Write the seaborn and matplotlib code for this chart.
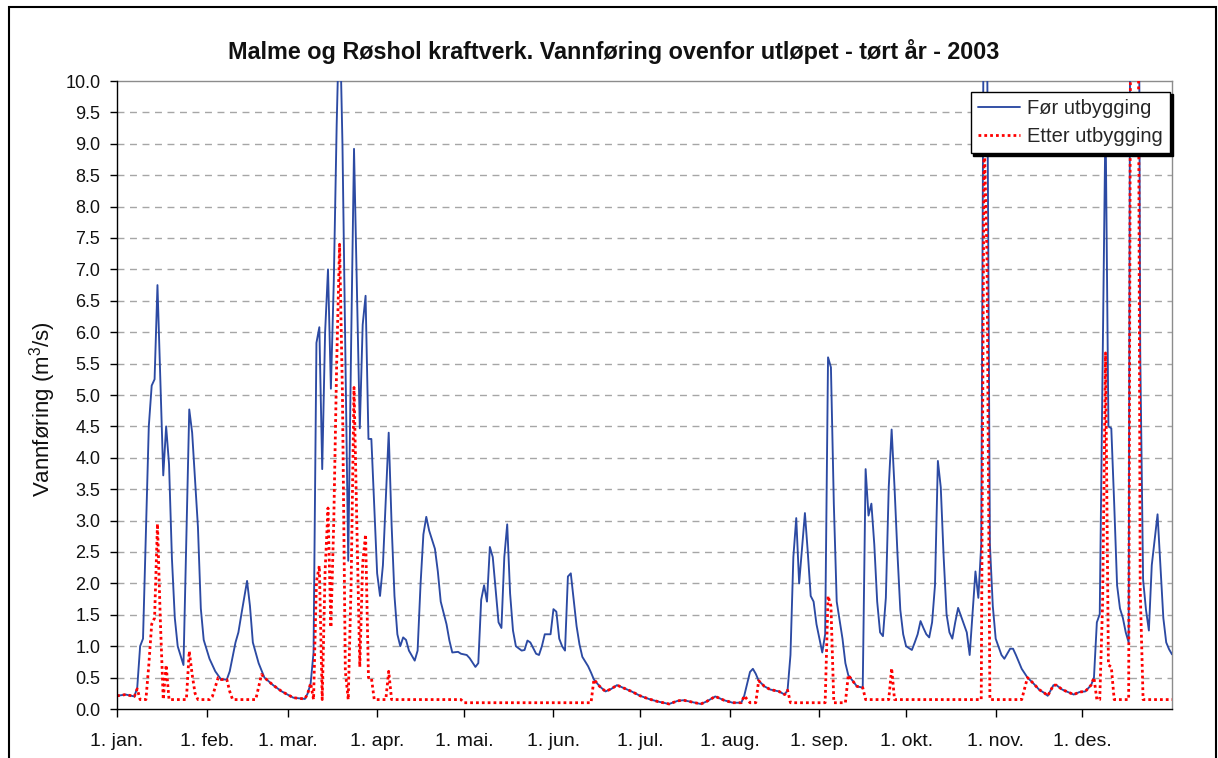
import numpy as np
import pandas as pd
import matplotlib
matplotlib.use("Agg")
import matplotlib.pyplot as plt
import seaborn as sns
from matplotlib.patches import Rectangle

# Discharge above the outlet, m3/s, by day of year (0 = 1 January 2003)
for_days = [0, 3, 6, 7, 8, 9, 11, 12, 13, 14, 16, 17, 18, 19, 20, 21, 22, 23, 25, 26,
            28, 29, 30, 32, 34, 36, 38, 39, 41, 42, 43, 45, 46, 47, 49, 51, 54, 57, 61, 65,
            66, 67, 68, 69, 70, 71, 72, 73, 74, 75, 76, 77, 78, 79, 80, 81, 82, 83, 84, 85,
            86, 87, 88, 90, 91, 92, 94, 95, 96, 97, 98, 99, 100, 101, 103, 104, 105, 106, 107, 108,
            110, 111, 112, 114, 115, 116, 118, 119, 121, 122, 124, 125, 126, 127, 128, 129, 130, 131, 132, 133,
            134, 135, 136, 137, 138, 140, 141, 142, 143, 145, 146, 147, 148, 150, 151, 152, 153, 154, 155, 156,
            157, 158, 159, 160, 161, 163, 164, 165, 167, 169, 171, 173, 175, 178, 181, 184, 187, 191, 194, 196,
            198, 202, 204, 207, 210, 213, 216, 217, 219, 220, 221, 222, 224, 226, 229, 231, 232, 233, 234, 235,
            236, 237, 238, 239, 240, 241, 242, 244, 245, 246, 247, 248, 249, 251, 252, 253, 255, 256, 258, 259,
            260, 261, 262, 263, 264, 265, 266, 267, 268, 269, 270, 271, 272, 273, 275, 276, 277, 278, 279, 280,
            281, 282, 283, 284, 285, 286, 287, 288, 289, 290, 291, 292, 294, 295, 297, 298, 299, 300, 301, 302,
            303, 304, 306, 307, 309, 310, 311, 313, 315, 317, 319, 321, 322, 324, 325, 327, 329, 331, 333, 335,
            337, 338, 339, 340, 341, 342, 343, 344, 345, 346, 347, 348, 349, 350, 351, 352, 353, 354, 355, 356,
            357, 358, 360, 361, 362, 363, 364, 365]
for_flow = [0.21, 0.23, 0.20, 0.34, 1.00, 1.12, 4.50, 5.15, 5.25, 6.75, 3.72, 4.50, 3.90, 2.40, 1.45, 1.00, 0.85, 0.70, 4.77, 4.40,
            2.90, 1.60, 1.10, 0.80, 0.60, 0.47, 0.47, 0.60, 1.06, 1.22, 1.50, 2.04, 1.64, 1.06, 0.73, 0.50, 0.38, 0.28, 0.18, 0.16,
            0.25, 0.41, 0.90, 5.83, 6.08, 3.82, 6.00, 7.00, 5.10, 6.80, 9.30, 11.20, 9.00, 5.70, 2.36, 5.80, 8.92, 6.70, 4.47, 6.12,
            6.58, 4.30, 4.30, 2.16, 1.80, 2.29, 4.40, 2.94, 1.80, 1.19, 1.00, 1.14, 1.10, 0.93, 0.77, 0.93, 1.97, 2.78, 3.06, 2.84,
            2.55, 2.19, 1.71, 1.35, 1.09, 0.90, 0.91, 0.88, 0.86, 0.81, 0.67, 0.73, 1.74, 1.97, 1.71, 2.58, 2.42, 1.90, 1.38, 1.29,
            2.42, 2.94, 1.84, 1.25, 1.00, 0.93, 0.94, 1.09, 1.06, 0.88, 0.86, 1.00, 1.19, 1.19, 1.59, 1.55, 1.12, 1.00, 0.93, 2.11,
            2.16, 1.74, 1.32, 1.03, 0.83, 0.68, 0.58, 0.47, 0.36, 0.28, 0.32, 0.38, 0.34, 0.28, 0.21, 0.16, 0.12, 0.08, 0.13, 0.14,
            0.12, 0.08, 0.12, 0.20, 0.14, 0.10, 0.10, 0.21, 0.59, 0.64, 0.56, 0.45, 0.36, 0.31, 0.28, 0.23, 0.30, 0.86, 2.42, 3.04,
            2.00, 2.55, 3.12, 2.49, 1.80, 1.71, 1.35, 0.90, 1.19, 5.60, 5.44, 3.27, 1.71, 1.12, 0.73, 0.54, 0.42, 0.36, 0.34, 3.82,
            3.08, 3.27, 2.62, 1.71, 1.22, 1.16, 1.77, 3.53, 4.45, 3.53, 2.49, 1.58, 1.19, 1.00, 0.94, 1.06, 1.19, 1.40, 1.29, 1.19,
            1.14, 1.38, 1.97, 3.95, 3.53, 2.42, 1.51, 1.22, 1.12, 1.38, 1.61, 1.48, 1.22, 0.86, 2.19, 1.77, 2.62, 13.0, 11.0, 2.62,
            1.64, 1.12, 0.86, 0.80, 0.96, 0.96, 0.86, 0.64, 0.50, 0.41, 0.31, 0.25, 0.21, 0.38, 0.38, 0.31, 0.27, 0.23, 0.27, 0.28,
            0.38, 0.50, 1.38, 1.51, 5.50, 9.47, 4.50, 4.47, 3.27, 1.97, 1.60, 1.45, 1.22, 1.06, 20.4, 22.0, 20.0, 5.70, 2.06, 1.58,
            1.25, 2.29, 3.10, 2.29, 1.45, 1.06, 0.95, 0.87]

etter_days = [0, 3, 6, 7, 8, 10, 11, 12, 13, 14, 15, 16, 17, 18, 24, 25, 26, 27, 28, 32,
              33, 35, 36, 38, 39, 40, 48, 50, 51, 54, 57, 61, 65, 66, 67, 68, 69, 70, 71, 72,
              73, 74, 75, 76, 77, 78, 79, 80, 81, 82, 83, 84, 85, 86, 87, 88, 89, 93, 94, 95,
              119, 120, 164, 165, 167, 169, 171, 173, 175, 178, 181, 184, 187, 191, 194, 196, 198, 202, 204, 207,
              210, 213, 216, 217, 219, 221, 222, 224, 226, 229, 231, 232, 233, 245, 246, 247, 248, 252, 253, 255,
              256, 258, 259, 267, 268, 269, 299, 300, 301, 302, 313, 315, 317, 319, 321, 322, 324, 325, 327, 329,
              331, 333, 335, 337, 338, 339, 340, 341, 342, 343, 344, 345, 350, 351, 352, 353, 354, 355, 365]
etter_flow = [0.21, 0.23, 0.20, 0.32, 0.15, 0.15, 0.70, 1.35, 1.45, 2.95, 1.40, 0.15, 0.70, 0.15, 0.15, 0.92, 0.55, 0.25, 0.15, 0.15,
              0.20, 0.50, 0.47, 0.47, 0.28, 0.15, 0.15, 0.55, 0.50, 0.38, 0.28, 0.18, 0.16, 0.25, 0.41, 0.15, 2.03, 2.28, 0.15, 2.20,
              3.20, 1.30, 3.00, 5.50, 7.40, 5.00, 0.60, 0.15, 2.00, 5.12, 2.90, 0.67, 2.32, 2.78, 0.50, 0.50, 0.15, 0.15, 0.60, 0.15,
              0.15, 0.10, 0.10, 0.47, 0.36, 0.28, 0.32, 0.38, 0.34, 0.28, 0.21, 0.16, 0.12, 0.08, 0.13, 0.14, 0.12, 0.08, 0.12, 0.20,
              0.14, 0.10, 0.10, 0.21, 0.10, 0.10, 0.45, 0.36, 0.31, 0.28, 0.23, 0.30, 0.10, 0.10, 1.80, 1.64, 0.10, 0.10, 0.54, 0.42,
              0.36, 0.34, 0.15, 0.15, 0.65, 0.15, 0.15, 9.20, 7.20, 0.15, 0.15, 0.50, 0.41, 0.31, 0.25, 0.21, 0.38, 0.38, 0.31, 0.27,
              0.23, 0.27, 0.28, 0.38, 0.50, 0.15, 0.15, 1.70, 5.67, 0.70, 0.67, 0.15, 0.15, 16.6, 18.2, 16.2, 1.90, 0.15, 0.15]

month_starts = [0, 31, 59, 90, 120, 151, 181, 212, 243, 273, 304, 334]
month_labels = ["1. jan.", "1. feb.", "1. mar.", "1. apr.", "1. mai.", "1. jun.",
                "1. jul.", "1. aug.", "1. sep.", "1. okt.", "1. nov.", "1. des."]
y_ticks = [i * 0.5 for i in range(21)]

title = "Malme og Røshol kraftverk. Vannføring ovenfor utløpet - tørt år - 2003"
series_names = ["Før utbygging", "Etter utbygging"]

sns.set_style("white")
plt.rcParams["font.family"] = ["Liberation Sans", "DejaVu Sans"]
plt.rcParams["mathtext.fontset"] = "custom"
plt.rcParams["mathtext.rm"] = "Liberation Sans"

fig = plt.figure(figsize=(12.18, 7.58), dpi=100)
ax = fig.add_axes([117 / 1218, 1 - 709 / 758, (1172 - 117) / 1218, (709 - 81) / 758])

df_for = pd.DataFrame({"dag": for_days, "vannforing": for_flow})
df_etter = pd.DataFrame({"dag": etter_days, "vannforing": etter_flow})

sns.lineplot(data=df_for, x="dag", y="vannforing", ax=ax, color="#2C4AA3",
             linewidth=1.35, estimator=None, label=series_names[0], zorder=3)
sns.lineplot(data=df_etter, x="dag", y="vannforing", ax=ax, color="#FF0000",
             linewidth=2.0, estimator=None, label=series_names[1], zorder=4)
ax.lines[1].set_linestyle((0, (1, 1.1)))

ax.set_xlim(0, 365)
ax.set_ylim(0, 10)
ax.set_xticks(month_starts)
ax.set_xticklabels(month_labels)
ax.set_yticks(y_ticks)
ax.set_yticklabels([f"{v:.1f}" for v in y_ticks])
ax.tick_params(axis="both", direction="out", length=5, width=1, color="black",
               labelcolor="#111111")
ax.tick_params(axis="y", left=True, labelsize=13, pad=7)
ax.tick_params(axis="x", bottom=True, labelsize=14, pad=11, length=6)

for v in y_ticks[1:-1]:
    ax.axhline(v, color="#A6A6A6", linewidth=1, linestyle=(0, (5, 4)), zorder=1)

for side in ("top", "right"):
    ax.spines[side].set_color("#8C8C8C")
    ax.spines[side].set_linewidth(1)
for side in ("left", "bottom"):
    ax.spines[side].set_color("black")
    ax.spines[side].set_linewidth(1)
    ax.spines[side].set_zorder(5)

ax.set_xlabel("")
ax.set_ylabel("Vannføring (m$^3$/s)", fontsize=16, color="#111111", va="center")
ax.yaxis.set_label_coords((43 - 117) / 1055, (709 - 409) / 628)

leg = ax.legend(loc="upper right", bbox_to_anchor=(0.998, 0.983), borderaxespad=0,
                frameon=True, fancybox=False, framealpha=1, edgecolor="black",
                shadow={"color": "black", "alpha": 1}, fontsize=14.5,
                handlelength=2.1, handletextpad=0.35, borderpad=0.35, labelspacing=0.45)
leg.get_frame().set_linewidth(1)
leg.set_zorder(10)

fig.text(0.5037, 1 - 51 / 758, title, ha="center", va="center",
         fontsize=16.8, fontweight="bold", color="#111111")

fig.patches.append(Rectangle((9 / 1218, -0.01), (1216 - 9) / 1218, 1.01 - 7 / 758,
                             transform=fig.transFigure, fill=False,
                             edgecolor="black", linewidth=1.5))

fig.savefig("out.png", dpi=100)
